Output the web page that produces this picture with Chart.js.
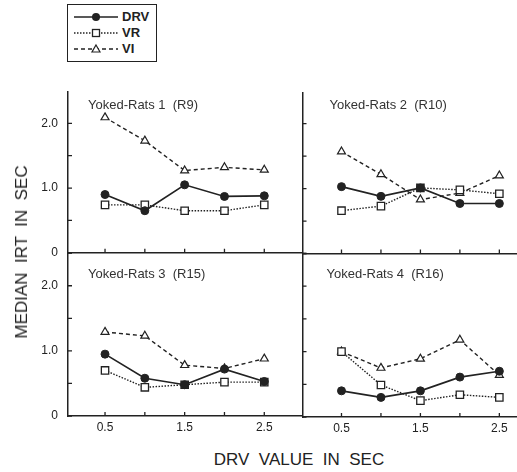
<!DOCTYPE html>
<html>
<head>
<meta charset="utf-8">
<script src="https://cdn.jsdelivr.net/npm/chart.js@4.4.1/dist/chart.umd.min.js"></script>
<style>
  body { margin: 0; background: #fff; font-family: "Liberation Sans", Arial, sans-serif; color: #222; }
  #wrap { position: relative; width: 517px; height: 472px; overflow: hidden; }
  canvas { position: absolute; }
  #legend { position: absolute; left: 67px; top: 4px; width: 88px; height: 56px; border: 1.5px solid #222; }
  .row { position: absolute; left: 6px; height: 16px; font-size: 13px; font-weight: bold; line-height: 16px; }
  .row svg { position: absolute; left: 0; top: 0; }
  .row span { position: absolute; left: 48px; top: 0; }
  #ytitle { position: absolute; left: 22px; top: 252px; transform: translate(-50%, -50%) rotate(-90deg); font-size: 17px; white-space: pre; }
  #xtitle { position: absolute; left: 299px; top: 460px; transform: translate(-50%, -50%); font-size: 17px; white-space: pre; }
</style>
</head>
<body>
<div id="wrap">
  <canvas id="p1" width="303" height="180"></canvas>
  <canvas id="p2" width="217" height="180"></canvas>
  <canvas id="p3" width="303" height="200"></canvas>
  <canvas id="p4" width="217" height="200"></canvas>
  <div id="legend">
    <div class="row" style="top:4px">
      <svg width="46" height="16"><line x1="0" y1="8" x2="44" y2="8" stroke="#222" stroke-width="1.6"/><circle cx="22" cy="8" r="4" fill="#222"/></svg>
      <span>DRV</span>
    </div>
    <div class="row" style="top:20px">
      <svg width="46" height="16"><line x1="0" y1="8" x2="44" y2="8" stroke="#222" stroke-width="1.3" stroke-dasharray="1.5,1.5"/><rect x="18.5" y="4.5" width="7" height="7" fill="#fff" stroke="#222" stroke-width="1.3"/></svg>
      <span>VR</span>
    </div>
    <div class="row" style="top:36px">
      <svg width="46" height="16"><line x1="0" y1="8" x2="44" y2="8" stroke="#222" stroke-width="1.3" stroke-dasharray="4,3"/><polygon points="22,4 26,11 18,11" fill="#fff" stroke="#222" stroke-width="1.2"/></svg>
      <span>VI</span>
    </div>
  </div>
  <div id="ytitle">MEDIAN  IRT  IN  SEC</div>
  <div id="xtitle">DRV  VALUE  IN  SEC</div>
</div>
<script>
const drvValues = [0.5, 1.0, 1.5, 2.0, 2.5];
const xTicks = [0.5, 1.0, 1.5, 2.0, 2.5];
const xLabels = ["0.5", "", "1.5", "", "2.5"];
const yTicks = [0, 0.5, 1.0, 1.5, 2.0, 2.5];
const yLabels = ["0", "", "1.0", "", "2.0", ""];

const panelTitles = ["Yoked-Rats 1  (R9)", "Yoked-Rats 2  (R10)", "Yoked-Rats 3  (R15)", "Yoked-Rats 4  (R16)"];

const drvR9 = [0.90, 0.65, 1.05, 0.87, 0.88];
const vrR9 = [0.74, 0.74, 0.65, 0.65, 0.74];
const viR9 = [2.09, 1.73, 1.27, 1.32, 1.28];

const drvR10 = [1.03, 0.88, 1.01, 0.77, 0.77];
const vrR10 = [0.66, 0.73, 1.01, 0.98, 0.92];
const viR10 = [1.57, 1.22, 0.83, 0.93, 1.20];

const drvR15 = [0.95, 0.58, 0.48, 0.72, 0.53];
const vrR15 = [0.70, 0.44, 0.48, 0.52, 0.52];
const viR15 = [1.29, 1.23, 0.78, 0.73, 0.88];

const drvR16 = [0.40, 0.30, 0.40, 0.61, 0.70];
const vrR16 = [1.00, 0.49, 0.25, 0.34, 0.30];
const viR16 = [1.00, 0.75, 0.89, 1.18, 0.64];

const ink = "#222";

// small inward tick marks and the panel caption
const panelDecor = {
  id: "panelDecor",
  afterDraw(chart, args, opts) {
    const { ctx, chartArea } = chart;
    const xs = chart.scales.x, ys = chart.scales.y;
    ctx.save();
    ctx.strokeStyle = ink;
    ctx.lineWidth = 1.3;
    ctx.beginPath();
    xTicks.forEach(v => {
      const px = xs.getPixelForValue(v);
      ctx.moveTo(px, chartArea.bottom);
      ctx.lineTo(px, chartArea.bottom - 4);
    });
    yTicks.forEach(v => {
      if (v > ys.max) return;
      const py = ys.getPixelForValue(v);
      ctx.moveTo(chartArea.left, py);
      ctx.lineTo(chartArea.left + 4, py);
    });
    ctx.stroke();
    ctx.fillStyle = "#333";
    ctx.font = "13px 'Liberation Sans', Arial, sans-serif";
    ctx.textBaseline = "middle";
    ctx.fillText(opts.title, chartArea.left + opts.titleX, chartArea.top + opts.titleY);
    ctx.restore();
  }
};

function series(drv, vr, vi) {
  return [
    {
      label: "DRV", data: drv, borderColor: ink, backgroundColor: ink, borderWidth: 1.7,
      pointStyle: "circle", pointRadius: 4, pointBorderWidth: 1
    },
    {
      label: "VR", data: vr, borderColor: ink, backgroundColor: "#fff", borderWidth: 1.4,
      borderDash: [1.5, 1.5], pointStyle: "rect", pointRadius: 5.2, pointBorderWidth: 1.3
    },
    {
      label: "VI", data: vi, borderColor: ink, backgroundColor: "#fff", borderWidth: 1.4,
      borderDash: [4, 3], pointStyle: "triangle", pointRadius: 4.6, pointBorderWidth: 1.2
    }
  ];
}

function panelConfig(opt) {
  return {
    type: "line",
    data: { labels: drvValues, datasets: series(opt.drv, opt.vr, opt.vi) },
    options: {
      responsive: false,
      maintainAspectRatio: false,
      animation: false,
      layout: { padding: 0 },
      plugins: {
        legend: { display: false },
        tooltip: { enabled: false },
        panelDecor: { title: opt.title, titleX: opt.titleX, titleY: opt.titleY }
      },
      elements: { line: { tension: 0 } },
      scales: {
        x: {
          type: "linear", min: opt.xMin, max: opt.xMax,
          afterBuildTicks: s => { s.ticks = xTicks.map(v => ({ value: v })); },
          afterFit: s => { s.height = opt.xHeight; },
          grid: { display: false, drawTicks: false },
          border: { display: true, color: ink, width: 1.5 },
          ticks: {
            display: opt.showX, padding: 4, color: "#222", maxRotation: 0, autoSkip: false,
            font: { size: 12, family: "'Liberation Sans', Arial, sans-serif" },
            callback: v => xLabels[xTicks.indexOf(v)] ?? ""
          }
        },
        y: {
          min: 0, max: opt.yMax,
          afterBuildTicks: s => { s.ticks = yTicks.filter(v => v <= opt.yMax).map(v => ({ value: v })); },
          afterFit: s => { s.width = opt.yWidth; },
          grid: { display: false, drawTicks: false },
          border: { display: true, color: ink, width: 1.5 },
          ticks: {
            display: opt.showY, padding: 10, color: "#222",
            font: { size: 12, family: "'Liberation Sans', Arial, sans-serif" },
            callback: v => yLabels[yTicks.indexOf(v)] ?? ""
          }
        }
      }
    },
    plugins: [panelDecor]
  };
}

// build once to learn the paddings, then size/place the canvas so the plot area lands on the target box
function makePanel(id, box, opt) {
  const canvas = document.getElementById(id);
  let chart = new Chart(canvas, panelConfig(opt));
  const a = chart.chartArea;
  const padL = a.left, padT = a.top;
  const padR = chart.width - a.right, padB = chart.height - a.bottom;
  chart.destroy();
  canvas.width = Math.round(padL + (box.right - box.left) + padR);
  canvas.height = Math.round(padT + (box.bottom - box.top) + padB);
  canvas.style.left = (box.left - padL) + "px";
  canvas.style.top = (box.top - padT) + "px";
  new Chart(canvas, panelConfig(opt));
}

makePanel("p1", { left: 68, right: 302, top: 92, bottom: 253 }, {
  drv: drvR9, vr: vrR9, vi: viR9, title: panelTitles[0], titleX: 20, titleY: 13,
  xMin: 0.035, xMax: 2.98, yMax: 2.48, xHeight: 4, yWidth: 68, showX: false, showY: true });
makePanel("p2", { left: 302, right: 517, top: 92, bottom: 253 }, {
  drv: drvR10, vr: vrR10, vi: viR10, title: panelTitles[1], titleX: 27, titleY: 13,
  xMin: 0.006, xMax: 2.73, yMax: 2.48, xHeight: 4, yWidth: 2, showX: false, showY: false });
makePanel("p3", { left: 68, right: 302, top: 253, bottom: 416 }, {
  drv: drvR15, vr: vrR15, vi: viR15, title: panelTitles[2], titleX: 20, titleY: 21,
  xMin: 0.035, xMax: 2.98, yMax: 2.5, xHeight: 24, yWidth: 68, showX: true, showY: true });
makePanel("p4", { left: 302, right: 517, top: 253, bottom: 416 }, {
  drv: drvR16, vr: vrR16, vi: viR16, title: panelTitles[3], titleX: 24, titleY: 21,
  xMin: 0.006, xMax: 2.73, yMax: 2.5, xHeight: 24, yWidth: 2, showX: true, showY: false });
</script>
</body>
</html>
